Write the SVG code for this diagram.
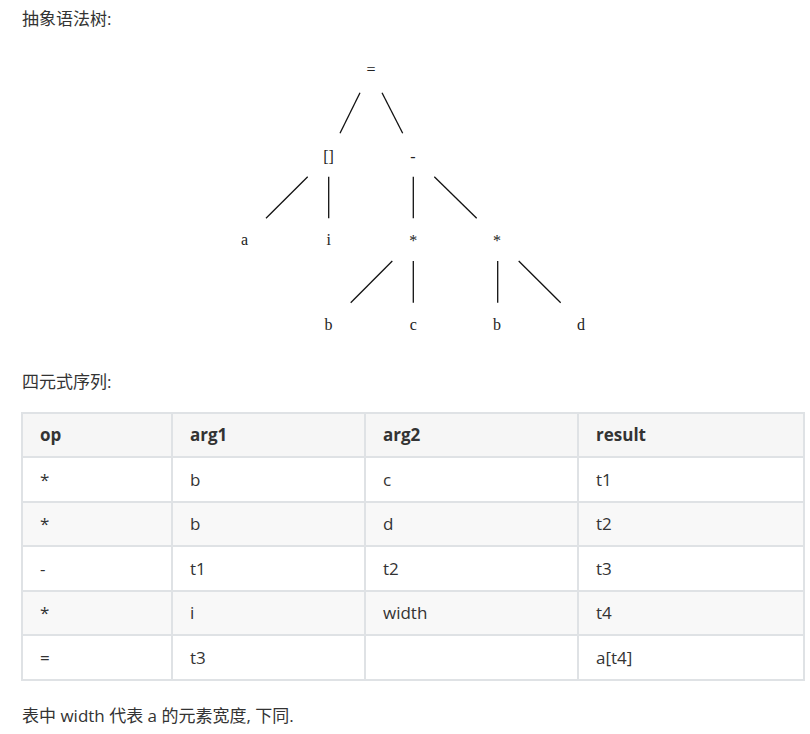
<svg xmlns="http://www.w3.org/2000/svg" width="810" height="734" viewBox="0 0 810 734">
<style>
.t{font-family:"Open Sans","Noto Sans CJK SC",sans-serif;font-size:17px;fill:#333}
.h{font-family:"Open Sans",sans-serif;font-size:17px;font-weight:bold;fill:#333}
.n{font-family:"Liberation Serif",serif;font-size:16px;fill:#222;text-anchor:middle}
.e{stroke:#111;stroke-width:1.3;fill:none}
.g{stroke:#dfe2e5;stroke-width:2;fill:none}
</style>
<rect width="810" height="734" fill="#fff"/>
<text class="t" x="22" y="25">抽象语法树:</text>
<g id="tree-nodes">
<g id="n-eq"><text class="n" x="371" y="75">=</text></g>
<g id="n-idx"><text class="n" x="328.5" y="162">[]</text></g>
<g id="n-minus"><text class="n" x="413" y="162">-</text></g>
<g id="n-a"><text class="n" x="244.5" y="245">a</text></g>
<g id="n-i"><text class="n" x="328.7" y="245">i</text></g>
<g id="n-mul1"><text class="n" x="413.3" y="246">*</text></g>
<g id="n-mul2"><text class="n" x="497" y="246">*</text></g>
<g id="n-b1"><text class="n" x="328.5" y="330">b</text></g>
<g id="n-c"><text class="n" x="413.3" y="330">c</text></g>
<g id="n-b2"><text class="n" x="497" y="330">b</text></g>
<g id="n-d"><text class="n" x="581" y="330">d</text></g>
</g>
<g id="connectors">
<line class="e" x1="360" y1="92.7" x2="340" y2="133.3"/>
<line class="e" x1="382" y1="92.7" x2="402.7" y2="133.3"/>
<line class="e" x1="307.7" y1="176.7" x2="266" y2="218.3"/>
<line class="e" x1="328.7" y1="176.7" x2="328.7" y2="218.3"/>
<line class="e" x1="413.3" y1="176.7" x2="413.3" y2="218.3"/>
<line class="e" x1="434.3" y1="176.7" x2="476.7" y2="218.3"/>
<line class="e" x1="392.3" y1="261" x2="350.7" y2="302.7"/>
<line class="e" x1="413.3" y1="261" x2="413.3" y2="302.7"/>
<line class="e" x1="497.7" y1="261" x2="497.7" y2="302.7"/>
<line class="e" x1="518.7" y1="261" x2="560.7" y2="302.7"/>
</g>
<text class="t" x="22" y="388">四元式序列:</text>
<g id="table">
<rect x="22" y="413" width="782" height="44" fill="#f6f6f6"/>
<rect x="22" y="502" width="782" height="44" fill="#f8f8f8"/>
<rect x="22" y="591" width="782" height="44" fill="#f8f8f8"/>
<rect class="g" x="22" y="413" width="782" height="267"/>
<line class="g" x1="22" y1="457" x2="804" y2="457"/>
<line class="g" x1="22" y1="502" x2="804" y2="502"/>
<line class="g" x1="22" y1="546" x2="804" y2="546"/>
<line class="g" x1="22" y1="591" x2="804" y2="591"/>
<line class="g" x1="22" y1="635" x2="804" y2="635"/>
<line class="g" x1="172" y1="413" x2="172" y2="680"/>
<line class="g" x1="365" y1="413" x2="365" y2="680"/>
<line class="g" x1="578" y1="413" x2="578" y2="680"/>
<text class="h" x="40" y="441">op</text>
<text class="h" x="190" y="441">arg1</text>
<text class="h" x="383" y="441">arg2</text>
<text class="h" x="596" y="441">result</text>
<text class="t" x="40" y="486">*</text><text class="t" x="190" y="486">b</text><text class="t" x="383" y="486">c</text><text class="t" x="596" y="486">t1</text>
<text class="t" x="40" y="530">*</text><text class="t" x="190" y="530">b</text><text class="t" x="383" y="530">d</text><text class="t" x="596" y="530">t2</text>
<text class="t" x="40" y="575">-</text><text class="t" x="190" y="575">t1</text><text class="t" x="383" y="575">t2</text><text class="t" x="596" y="575">t3</text>
<text class="t" x="40" y="619">*</text><text class="t" x="190" y="619">i</text><text class="t" x="383" y="619">width</text><text class="t" x="596" y="619">t4</text>
<text class="t" x="40" y="664">=</text><text class="t" x="190" y="664">t3</text><text class="t" x="596" y="664">a[t4]</text>
</g>
<text class="t" x="22" y="722">表中 width 代表 a 的元素宽度, 下同.</text>
</svg>
